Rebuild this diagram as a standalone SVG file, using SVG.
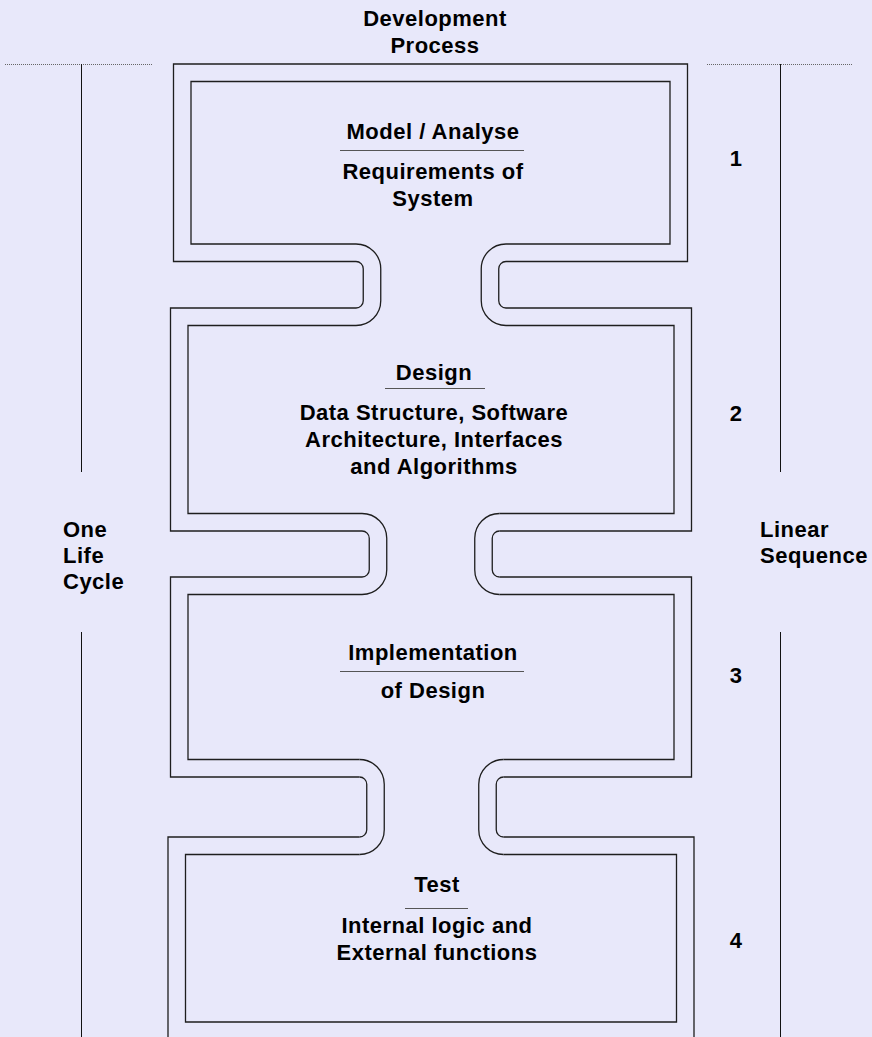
<svg xmlns="http://www.w3.org/2000/svg" width="872" height="1037" viewBox="0 0 872 1037">
<style>
.bg{fill:#E8E8FA}
.w{fill:none;stroke:#1e1e1e;stroke-width:1.3}
.t{font-family:"Liberation Sans",Arial,sans-serif;font-size:22px;font-weight:bold;letter-spacing:0.5px;fill:#000;text-anchor:middle}
.l{font-family:"Liberation Sans",Arial,sans-serif;font-size:22px;font-weight:bold;letter-spacing:0.5px;fill:#000}
.u{stroke:#555;stroke-width:1}
.v{stroke:#111;stroke-width:1}
.d{stroke:#666;stroke-width:1;stroke-dasharray:1 1}
</style>
<rect class="bg" x="0" y="0" width="872" height="1037"/>
<g id="title">
<text class="t" x="435" y="26">Development</text>
<text class="t" x="435" y="53">Process</text>
</g>
<g id="left-scale">
<line class="d" x1="5" y1="64.5" x2="153" y2="64.5"/>
<line class="v" x1="81.5" y1="64" x2="81.5" y2="472"/>
<line class="v" x1="81.5" y1="632" x2="81.5" y2="1037"/>
<text class="l" x="63" y="537">One</text>
<text class="l" x="63" y="563">Life</text>
<text class="l" x="63" y="589">Cycle</text>
</g>
<g id="right-scale">
<line class="d" x1="707" y1="64.5" x2="853" y2="64.5"/>
<line class="v" x1="780.5" y1="64" x2="780.5" y2="472"/>
<line class="v" x1="780.5" y1="632" x2="780.5" y2="1037"/>
<text class="l" x="760" y="537">Linear</text>
<text class="l" x="760" y="563">Sequence</text>
</g>
<g id="stage1">
<path class="w" d="M356,261.5 H173.5 V64 H687.5 V261.5 H506"/>
<path class="w" d="M356,244 H191 V81.5 H670 V244 H506"/>
<text class="t" x="433" y="139">Model / Analyse</text>
<line class="u" x1="340" y1="150.5" x2="524" y2="150.5"/>
<text class="t" x="433" y="179">Requirements of</text>
<text class="t" x="433" y="206">System</text>
<text class="t" x="736" y="166">1</text>
</g>
<g id="stage2">
<path class="w" d="M356,308 H170.5 V531 H362"/>
<path class="w" d="M506,308 H691.5 V531 H499.5"/>
<path class="w" d="M356,325.5 H188 V513.5 H362"/>
<path class="w" d="M506,325.5 H674 V513.5 H499.5"/>
<text class="t" x="434" y="380">Design</text>
<line class="u" x1="385" y1="388.5" x2="485" y2="388.5"/>
<text class="t" x="434" y="420">Data Structure, Software</text>
<text class="t" x="434" y="447">Architecture, Interfaces</text>
<text class="t" x="434" y="474">and Algorithms</text>
<text class="t" x="736" y="421">2</text>
</g>
<g id="stage3">
<path class="w" d="M362,577 H170.5 V777 H359.5"/>
<path class="w" d="M499.5,577 H691.5 V777 H503.5"/>
<path class="w" d="M362,594.5 H188 V759.5 H359.5"/>
<path class="w" d="M499.5,594.5 H674 V759.5 H503.5"/>
<text class="t" x="433" y="660">Implementation</text>
<line class="u" x1="340" y1="671.5" x2="524" y2="671.5"/>
<text class="t" x="433" y="698">of Design</text>
<text class="t" x="736" y="683">3</text>
</g>
<g id="stage4">
<path class="w" d="M359.5,837 H168 V1040"/>
<path class="w" d="M503.5,837 H694 V1040"/>
<path class="w" d="M359.5,854.5 H185.5 V1022 H676.5 V854.5 H503.5"/>
<text class="t" x="437" y="892">Test</text>
<line class="u" x1="405" y1="908.5" x2="468" y2="908.5"/>
<text class="t" x="437" y="933">Internal logic and</text>
<text class="t" x="437" y="960">External functions</text>
<text class="t" x="736" y="948">4</text>
</g>
<g id="connectors">
<path class="w" d="M356,261.5 A7.25,7.25 0 0 1 363.25,268.75 V300.75 A7.25,7.25 0 0 1 356,308"/>
<path class="w" d="M356,244 A24.75,24.75 0 0 1 380.75,268.75 V300.75 A24.75,24.75 0 0 1 356,325.5"/>
<path class="w" d="M506,261.5 A7.25,7.25 0 0 0 498.75,268.75 V300.75 A7.25,7.25 0 0 0 506,308"/>
<path class="w" d="M506,244 A24.75,24.75 0 0 0 481.25,268.75 V300.75 A24.75,24.75 0 0 0 506,325.5"/>
<path class="w" d="M362,531 A7.25,7.25 0 0 1 369.25,538.25 V569.75 A7.25,7.25 0 0 1 362,577"/>
<path class="w" d="M362,513.5 A24.75,24.75 0 0 1 386.75,538.25 V569.75 A24.75,24.75 0 0 1 362,594.5"/>
<path class="w" d="M499.5,531 A7.25,7.25 0 0 0 492.25,538.25 V569.75 A7.25,7.25 0 0 0 499.5,577"/>
<path class="w" d="M499.5,513.5 A24.75,24.75 0 0 0 474.75,538.25 V569.75 A24.75,24.75 0 0 0 499.5,594.5"/>
<path class="w" d="M359.5,777 A7.25,7.25 0 0 1 366.75,784.25 V829.75 A7.25,7.25 0 0 1 359.5,837"/>
<path class="w" d="M359.5,759.5 A24.75,24.75 0 0 1 384.25,784.25 V829.75 A24.75,24.75 0 0 1 359.5,854.5"/>
<path class="w" d="M503.5,777 A7.25,7.25 0 0 0 496.25,784.25 V829.75 A7.25,7.25 0 0 0 503.5,837"/>
<path class="w" d="M503.5,759.5 A24.75,24.75 0 0 0 478.75,784.25 V829.75 A24.75,24.75 0 0 0 503.5,854.5"/>
</g>
</svg>
